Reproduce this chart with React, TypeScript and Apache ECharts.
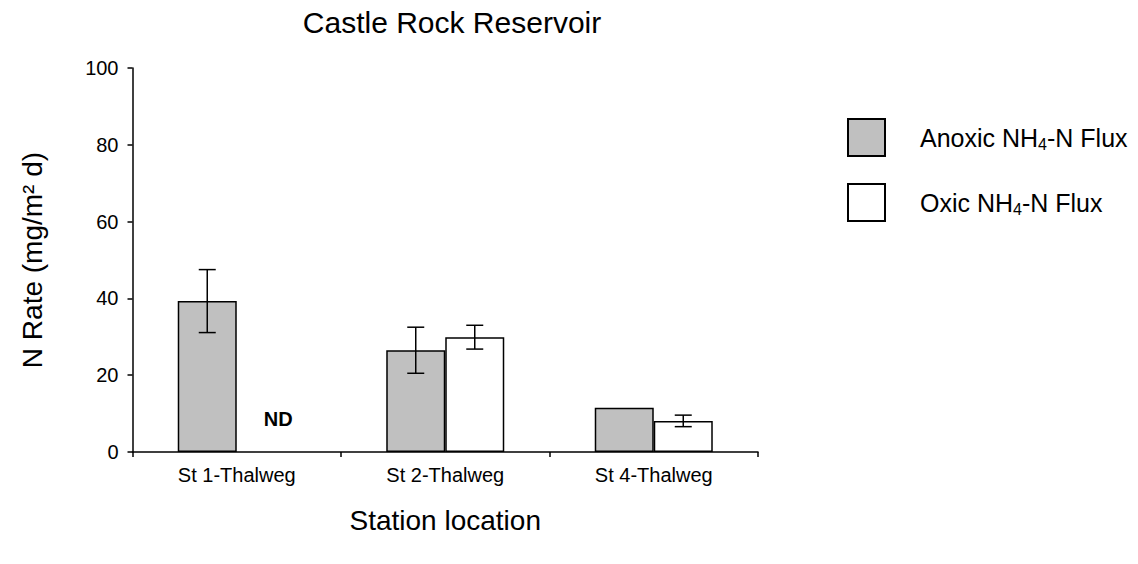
import React, { useEffect, useRef } from "react";
import * as echarts from "echarts";

const categories = ["St 1-Thalweg", "St 2-Thalweg", "St 4-Thalweg"];
const anoxicValues = [39.3, 26.5, 11.5];
const anoxicErr = [8.2, 6.0, 0];
const oxicValues: (number | null)[] = [0, 29.9, 8.1];
const oxicErr = [0, 3.1, 1.5];
const oxicLabels = ["ND", "", ""];
const yTicks = [0, 20, 40, 60, 80, 100];

const GAP = 0.434;

export default function App() {
  const ref = useRef<HTMLDivElement>(null);
  useEffect(() => {
    if (!ref.current) return;
    const chart = echarts.init(ref.current, null, { renderer: "svg" });
    const font = "Liberation Sans, Arial, sans-serif";

    const errData = (vals: (number | null)[], errs: number[], side: number) =>
      vals.map((v, i) => [i, v ?? 0, errs[i], side]);

    const renderErr = (params: any, api: any) => {
      const i = api.value(0);
      const v = api.value(1);
      const e = api.value(2);
      const side = api.value(3);
      if (!e) return null;
      const band = api.size([1, 0])[0];
      const barW = (band * (1 - GAP)) / 2;
      const c = api.coord([i, v]);
      const x = c[0] + (side * barW) / 2;
      const top = api.coord([i, v + e])[1];
      const bot = api.coord([i, v - e])[1];
      const cap = 8.5;
      const style = { stroke: "#000", lineWidth: 1.5 };
      return {
        type: "group",
        children: [
          { type: "line", shape: { x1: x, y1: top, x2: x, y2: bot }, style },
          { type: "line", shape: { x1: x - cap, y1: top, x2: x + cap, y2: top }, style },
          { type: "line", shape: { x1: x - cap, y1: bot, x2: x + cap, y2: bot }, style },
        ],
      };
    };

    const rich = {
      sub: { fontSize: 16, fontFamily: font, color: "#000", padding: [14, 0, 0, 0] },
    };

    chart.setOption({
      animation: false,
      backgroundColor: "#fff",
      title: {
        text: "Castle Rock Reservoir",
        left: 447,
        textAlign: "center",
        top: 2,
        textStyle: { fontFamily: font, fontSize: 30, fontWeight: "normal", color: "#000" },
      },
      grid: { left: 132.5, right: 380, top: 68, bottom: 112, containLabel: false },
      legend: {
        orient: "vertical",
        left: 842,
        top: 113,
        itemWidth: 37,
        itemHeight: 37,
        itemGap: 26,
        icon: "rect",
        data: ["Anoxic", "Oxic"],
        formatter: (name: string) => `${name} NH{sub|4}-N Flux`,
        textStyle: { fontFamily: font, fontSize: 25, color: "#000", padding: [0, 0, 0, 30], rich },
      },
      xAxis: {
        type: "category",
        data: categories,
        name: "Station location",
        nameLocation: "middle",
        nameGap: 54,
        nameTextStyle: { fontFamily: font, fontSize: 28, color: "#000" },
        axisLine: { lineStyle: { color: "#000", width: 1.5 } },
        axisTick: { show: true, length: 5, lineStyle: { color: "#000", width: 1.5 } },
        axisLabel: { fontFamily: font, fontSize: 20, color: "#000", margin: 13 },
      },
      yAxis: {
        type: "value",
        min: 0,
        max: 100,
        interval: 20,
        name: "N Rate (mg/m² d)",
        nameLocation: "middle",
        nameGap: 86,
        nameTextStyle: { fontFamily: font, fontSize: 28, color: "#000" },
        axisLine: { show: true, lineStyle: { color: "#000", width: 1.5 } },
        axisTick: { show: true, length: 5, lineStyle: { color: "#000", width: 1.5 } },
        axisLabel: {
          fontFamily: font,
          fontSize: 20,
          color: "#000",
          margin: 14,
          formatter: (v: number) => (yTicks.includes(v) ? String(v) : ""),
        },
        splitLine: { show: false },
      },
      series: [
        {
          name: "Anoxic",
          type: "bar",
          data: anoxicValues,
          barGap: "0%",
          barCategoryGap: GAP * 100 + "%",
          itemStyle: { color: "#c0c0c0", borderColor: "#000", borderWidth: 1.5 },
        },
        {
          name: "Oxic",
          type: "bar",
          data: oxicValues.map((v, i) =>
            oxicLabels[i]
              ? {
                  value: v,
                  itemStyle: { borderWidth: 0, color: "transparent" },
                  label: {
                    show: true,
                    position: "top",
                    formatter: oxicLabels[i],
                    offset: [12, -18],
                    fontFamily: font,
                    fontSize: 20,
                    fontWeight: "bold",
                    color: "#000",
                  },
                }
              : v
          ),
          itemStyle: { color: "#fff", borderColor: "#000", borderWidth: 1.5 },
        },
        {
          type: "custom",
          renderItem: renderErr,
          data: errData(anoxicValues, anoxicErr, -1),
          z: 10,
          silent: true,
        },
        {
          type: "custom",
          renderItem: renderErr,
          data: errData(oxicValues, oxicErr, 1),
          z: 10,
          silent: true,
        },
      ],
    });
    return () => chart.dispose();
  }, []);
  return (
    <div
      ref={ref}
      style={{ position: "absolute", left: 0, top: 0, width: 1138, height: 564 }}
    />
  );
}
